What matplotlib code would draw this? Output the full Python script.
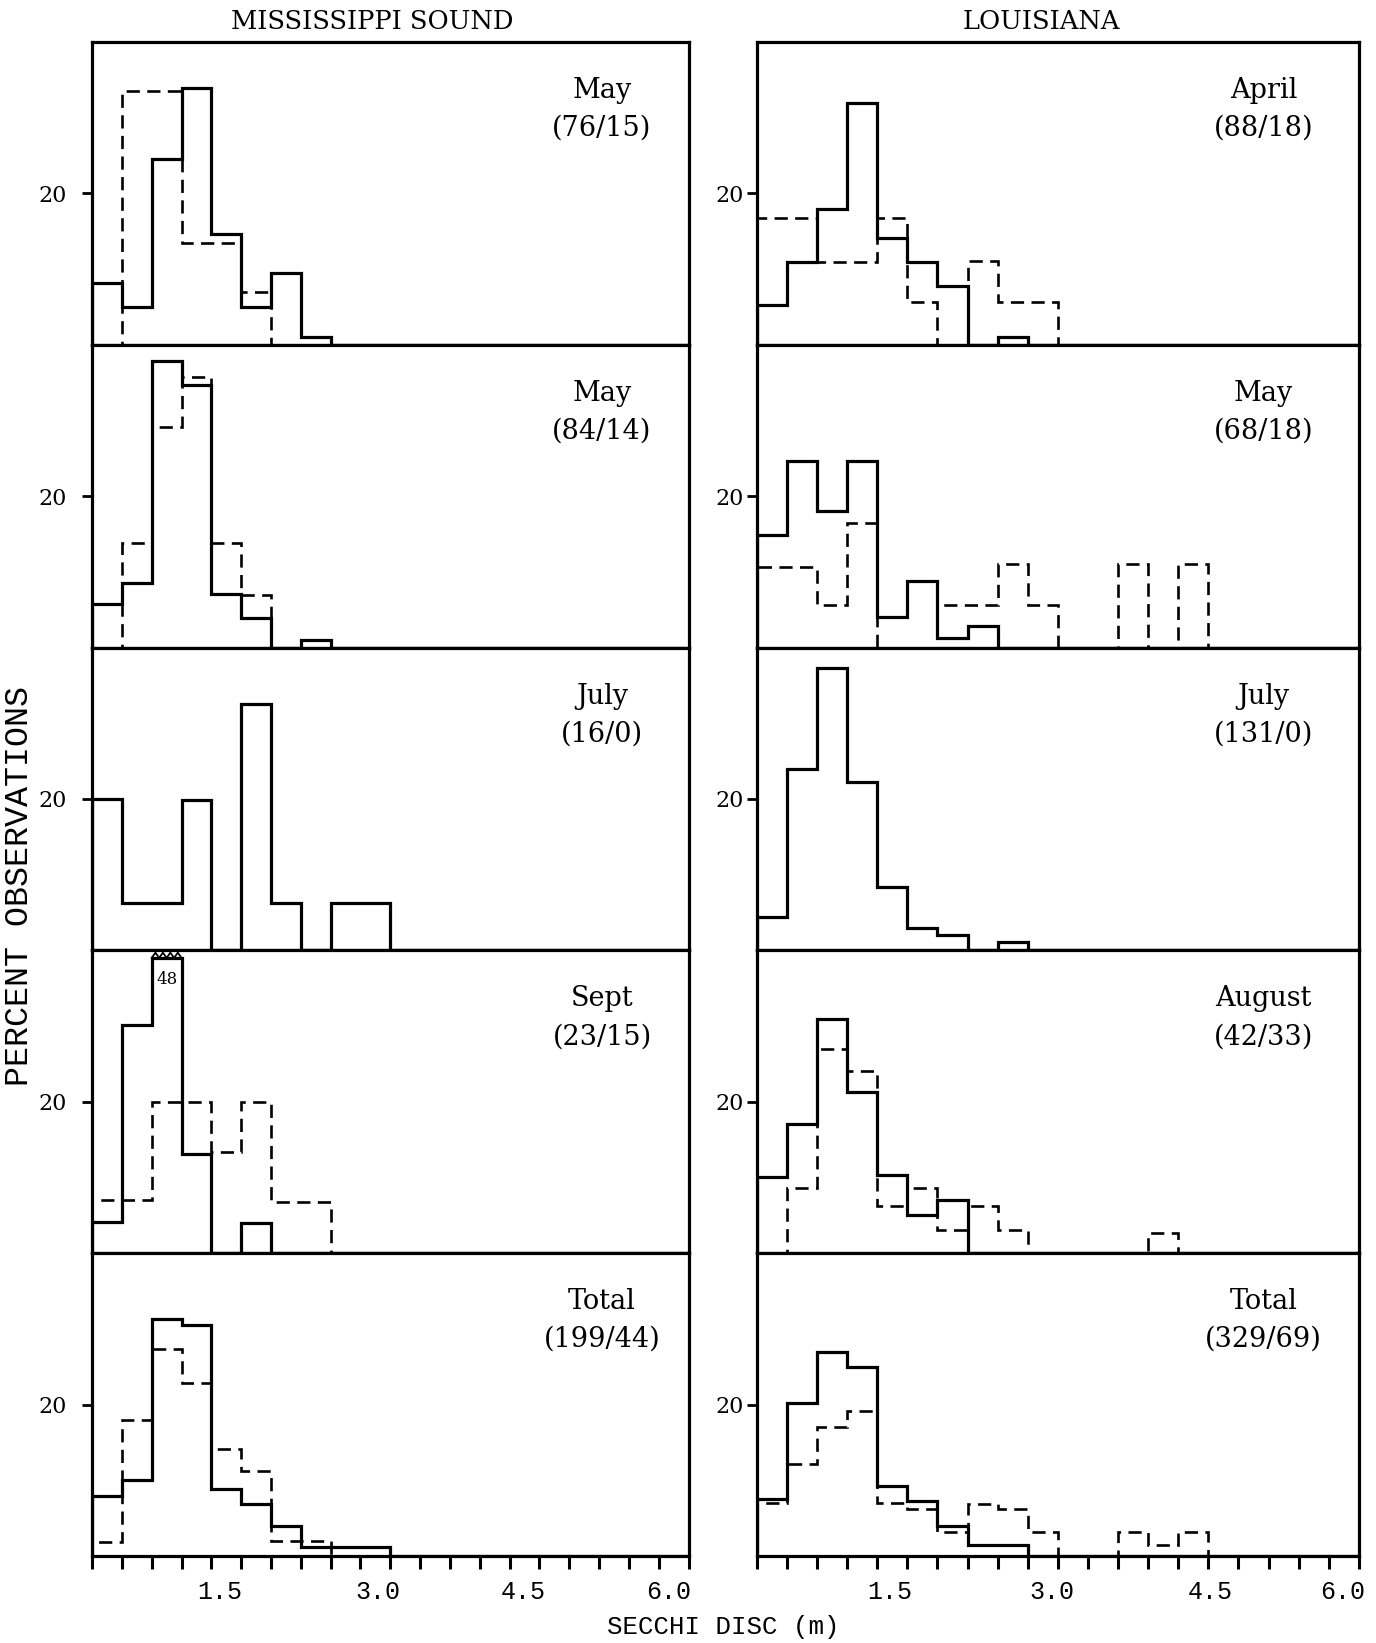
import numpy as np
import matplotlib
matplotlib.use('Agg')
import matplotlib.pyplot as plt

# secchi disc bins, 0.3 m wide from 0 to 6.0
BIN_W = 0.3
N_BINS = 20

# percent observations per bin (solid = first count, dashed = second count)
ms_may1_solid = [8.2, 5.0, 24.5, 33.9, 14.6, 5.0, 9.5, 1.0]
ms_may1_dash = [0, 33.6, 33.6, 13.4, 13.4, 7.0]
ms_may2_solid = [5.7, 8.5, 37.8, 34.7, 7.1, 3.9, 0, 1.0]
ms_may2_dash = [0, 13.8, 29.1, 35.8, 13.8, 6.9]
ms_jul_solid = [20.0, 6.3, 6.3, 19.9, 0, 32.6, 6.3, 0, 6.3, 6.3]
ms_jul_dash = []
ms_sep_solid = [4.1, 30.2, 48.0, 13.1, 0, 4.0]
ms_sep_dash = [7.0, 7.0, 20.0, 20.0, 13.3, 20.0, 6.7, 6.7]
ms_tot_solid = [7.9, 10.0, 31.3, 30.5, 8.9, 6.8, 3.9, 1.2, 1.2, 1.2]
ms_tot_dash = [1.9, 18.0, 27.4, 22.9, 14.1, 11.2, 2.0, 2.0]

la_apr_solid = [5.2, 10.9, 17.9, 32.0, 14.1, 10.9, 7.8, 0, 1.0]
la_apr_dash = [16.8, 16.8, 10.9, 10.9, 16.7, 5.6, 0, 11.1, 5.6, 5.6]
la_may_solid = [14.9, 24.6, 18.1, 24.7, 4.0, 8.8, 1.3, 2.9]
la_may_dash = [10.6, 10.6, 5.6, 16.5, 0, 0, 5.6, 5.6, 11.1, 5.6, 0, 0, 11.1, 0, 11.1]
la_jul_solid = [4.4, 24.0, 37.3, 22.2, 8.4, 3.0, 2.0, 0, 1.1]
la_jul_dash = []
la_aug_solid = [10.1, 17.1, 30.9, 21.3, 10.3, 5.1, 7.0]
la_aug_dash = [0, 8.6, 27.0, 24.0, 6.2, 8.6, 3.1, 6.2, 3.1, 0, 0, 0, 0, 2.6]
la_tot_solid = [7.5, 20.2, 26.9, 24.9, 9.2, 7.3, 4.0, 1.5, 1.5]
la_tot_dash = [7.0, 12.2, 17.0, 19.1, 7.0, 6.2, 3.1, 6.9, 6.2, 3.1, 0, 0, 3.1, 1.5, 3.1]

ms_months = ['May', 'May', 'July', 'Sept', 'Total']
ms_counts = ['(76/15)', '(84/14)', '(16/0)', '(23/15)', '(199/44)']
la_months = ['April', 'May', 'July', 'August', 'Total']
la_counts = ['(88/18)', '(68/18)', '(131/0)', '(42/33)', '(329/69)']

xtick_text = ['1.5', '3.0', '4.5', '6.0']

columns = [
    ('MISSISSIPPI SOUND',
     [ms_may1_solid, ms_may2_solid, ms_jul_solid, ms_sep_solid, ms_tot_solid],
     [ms_may1_dash, ms_may2_dash, ms_jul_dash, ms_sep_dash, ms_tot_dash],
     ms_months, ms_counts),
    ('LOUISIANA',
     [la_apr_solid, la_may_solid, la_jul_solid, la_aug_solid, la_tot_solid],
     [la_apr_dash, la_may_dash, la_jul_dash, la_aug_dash, la_tot_dash],
     la_months, la_counts),
]

SERIF = ['DejaVu Serif']
MONO = ['Liberation Mono', 'DejaVu Sans Mono']
YMAX = 40.0
CAP = 39.0  # where the off-scale bar is cut

# layout (figure fractions)
col_x = [(0.0669, 0.4335), (0.5500, 0.4375)]
bottom, top = 0.0530, 0.9744
row_h = (top - bottom) / 5
title_x = [0.2703, 0.7566]
# where the typewritten tick labels actually sit on the x axis
xtick_pos = [[1.28, 2.87, 4.34, 5.80], [1.33, 2.94, 4.52, 5.84]]
label_x = [5.13, 5.05]

fig = plt.figure(figsize=(13.76, 16.43), dpi=100)
edges = np.arange(N_BINS + 1) * BIN_W

for c, (title, solids, dashes, months, counts) in enumerate(columns):
    x0, w = col_x[c]
    fig.text(title_x[c], 0.9872, title, ha='center', va='center',
             family=SERIF, fontsize=18.5)
    for r in range(5):
        ax = fig.add_axes([x0, bottom + (4 - r) * row_h, w, row_h])
        ax.set_xlim(0, N_BINS * BIN_W)
        ax.set_ylim(0, YMAX)

        sol = np.zeros(N_BINS)
        sol[:len(solids[r])] = solids[r]
        clipped = sol > YMAX
        ax.stairs(np.minimum(sol, CAP), edges, baseline=0, color='black',
                  lw=2.3, zorder=3)
        # off-scale bar: jagged top with its real value written under it
        for i in np.where(clipped)[0]:
            zx = np.linspace(edges[i], edges[i + 1], 9)
            zy = np.where(np.arange(9) % 2 == 0, CAP, CAP + 0.7)
            ax.plot(zx, zy, color='black', lw=1.3, zorder=4)
            ax.text((edges[i] + edges[i + 1]) / 2, CAP - 2.8,
                    '%d' % round(sol[i]), ha='center', va='center',
                    family=SERIF, fontsize=12)

        if len(dashes[r]):
            das = np.zeros(N_BINS)
            das[:len(dashes[r])] = dashes[r]
            ax.stairs(das, edges, baseline=0, color='black', lw=1.9,
                      linestyle=(0, (5.0, 2.8)), zorder=3)

        ax.text(label_x[c], 33.6, months[r], ha='center', va='center',
                family=SERIF, fontsize=19.5)
        ax.text(label_x[c], 28.6, counts[r], ha='center', va='center',
                family=SERIF, fontsize=19.5)

        for s in ax.spines.values():
            s.set_linewidth(2.3)
            s.set_zorder(5)

        ax.set_yticks([20])
        ax.set_yticklabels(['20'], family=SERIF, fontsize=16)
        ax.tick_params(axis='y', length=7, width=2.0,
                       pad=11 if c == 0 else 2)

        if r == 4:
            ax.set_xticks(xtick_pos[c])
            ax.set_xticklabels(xtick_text, family=MONO, fontsize=18)
            ax.set_xticks(edges, minor=True)
            ax.tick_params(axis='x', which='major', length=0, pad=17)
            ax.tick_params(axis='x', which='minor', length=9.5, width=2.2)
        else:
            ax.set_xticks([])

fig.text(0.0145, 0.4607, 'PERCENT OBSERVATIONS', rotation=90,
         ha='center', va='center', family=MONO, fontsize=24)
fig.text(0.5254, 0.0097, 'SECCHI DISC (m)', ha='center', va='center',
         family=MONO, fontsize=18.5)

fig.savefig('out.png', dpi=100, facecolor='white')
